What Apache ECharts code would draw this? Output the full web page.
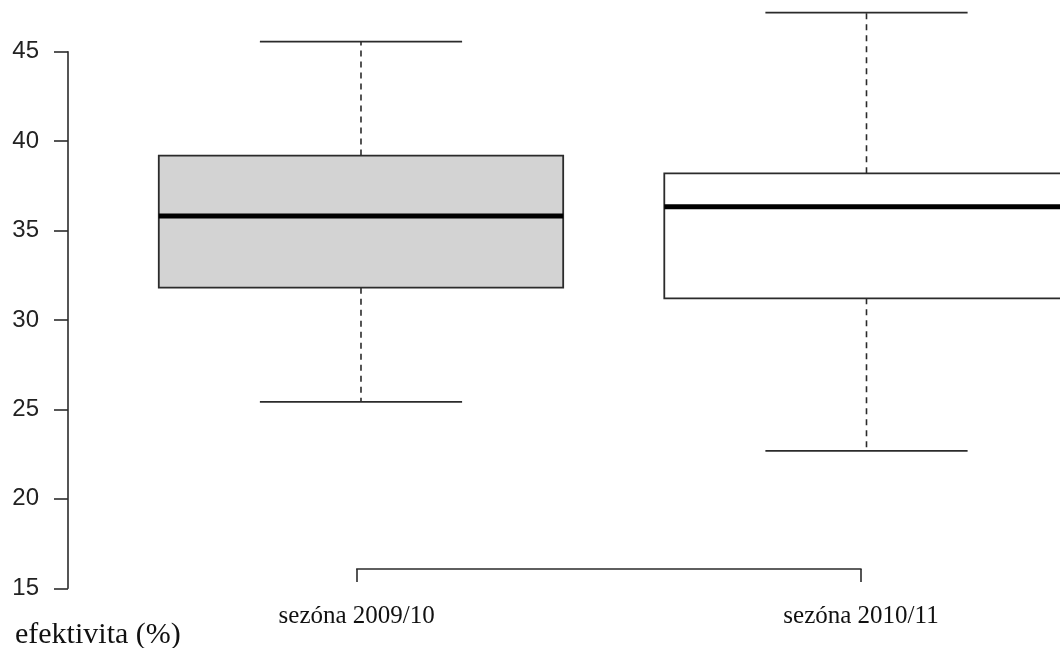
<!DOCTYPE html>
<html>
<head>
<meta charset="utf-8">
<title>efektivita</title>
<script src="https://cdn.jsdelivr.net/npm/echarts@6/dist/echarts.min.js"></script>
<style>
  html, body { margin: 0; padding: 0; background: #fff; }
  #chart { width: 1060px; height: 648px; }
</style>
</head>
<body>
<div id="chart"></div>
<script>
// Seasons shown on the horizontal axis
const categories = ['sezóna 2009/10', 'sezóna 2010/11'];
// Five-number summaries per season (%)
const whiskerLow  = [25.42, 22.68];
const quartile1   = [31.81, 31.21];
const medians     = [35.81, 36.33];
const quartile3   = [39.19, 38.20];
const whiskerHigh = [45.56, 47.18];
// Box fills per season
const boxFills = ['#d3d3d3', '#ffffff'];
// Y axis tick values
const yTicks = [15, 20, 25, 30, 35, 40, 45];

const BOX_HALF = 0.4;     // half box width in category units
const STAPLE_HALF = 0.2;  // half whisker-cap width
const INK = '#2b2b2b';

const boxData = categories.map((c, i) => [
  i + 1, whiskerLow[i], quartile1[i], medians[i], quartile3[i], whiskerHigh[i], i
]);

function renderBox(params, api) {
  const x = api.value(0);
  const lo = api.value(1), q1 = api.value(2), md = api.value(3), q3 = api.value(4), hi = api.value(5);
  const idx = api.value(6);
  const pLoL = api.coord([x - STAPLE_HALF, lo]);
  const pLoR = api.coord([x + STAPLE_HALF, lo]);
  const pHiL = api.coord([x - STAPLE_HALF, hi]);
  const pHiR = api.coord([x + STAPLE_HALF, hi]);
  const cLo = api.coord([x, lo]);
  const cHi = api.coord([x, hi]);
  const cQ1 = api.coord([x, q1]);
  const cQ3 = api.coord([x, q3]);
  const bTL = api.coord([x - BOX_HALF, q3]);
  const bBR = api.coord([x + BOX_HALF, q1]);
  const mL = api.coord([x - BOX_HALF, md]);
  const mR = api.coord([x + BOX_HALF, md]);
  const dash = { stroke: INK, lineWidth: 1.6, lineDash: [6, 5] };
  const solid = { stroke: INK, lineWidth: 1.8 };
  return {
    type: 'group',
    children: [
      { type: 'line', shape: { x1: cQ3[0], y1: cQ3[1], x2: cHi[0], y2: cHi[1] }, style: dash },
      { type: 'line', shape: { x1: cQ1[0], y1: cQ1[1], x2: cLo[0], y2: cLo[1] }, style: dash },
      { type: 'line', shape: { x1: pHiL[0], y1: pHiL[1], x2: pHiR[0], y2: pHiR[1] }, style: solid },
      { type: 'line', shape: { x1: pLoL[0], y1: pLoL[1], x2: pLoR[0], y2: pLoR[1] }, style: solid },
      { type: 'rect', shape: { x: bTL[0], y: bTL[1], width: bBR[0] - bTL[0], height: bBR[1] - bTL[1] },
        style: { fill: boxFills[idx], stroke: INK, lineWidth: 1.8 } },
      { type: 'line', shape: { x1: mL[0], y1: mL[1], x2: mR[0], y2: mR[1] },
        style: { stroke: '#000', lineWidth: 5 } }
    ]
  };
}

const chart = echarts.init(document.getElementById('chart'), null, { renderer: 'canvas' });
chart.setOption({
  animation: false,
  backgroundColor: '#ffffff',
  grid: [
    { left: 68, right: 0, top: 51.7, bottom: 59.7, containLabel: false },
    { left: 356.7, right: 199, top: 568, height: 1, containLabel: false }
  ],
  xAxis: [
    { gridIndex: 0, type: 'value', min: 0.4204, max: 2.3828, show: false },
    {
      gridIndex: 1, type: 'category', data: categories, boundaryGap: false,
      axisLine: { show: true, lineStyle: { color: INK, width: 1.6 } },
      axisTick: { show: true, length: 13, interval: 0, lineStyle: { color: INK, width: 1.6 } },
      axisLabel: {
        interval: 0, margin: 35, color: '#111',
        fontFamily: '"Liberation Serif", "Times New Roman", serif', fontSize: 25
      },
      splitLine: { show: false }
    }
  ],
  yAxis: [
    {
      gridIndex: 0, type: 'value', min: 15, max: 45, interval: 5,
      axisLine: { show: true, lineStyle: { color: INK, width: 1.6 } },
      axisTick: { show: true, length: 14, lineStyle: { color: INK, width: 1.6 } },
      axisLabel: {
        margin: 29, color: '#222',
        fontFamily: '"Liberation Sans", Arial, sans-serif', fontSize: 24,
        padding: [3, 0, 0, 0],
        customValues: yTicks
      },
      splitLine: { show: false }
    },
    { gridIndex: 1, type: 'value', show: false }
  ],
  graphic: [
    {
      type: 'text', left: 15, top: 620,
      style: {
        text: 'efektivita (%)', fill: '#111',
        font: '30px "Liberation Serif", "Times New Roman", serif'
      }
    }
  ],
  series: [
    {
      type: 'custom',
      xAxisIndex: 0, yAxisIndex: 0,
      clip: false,
      renderItem: renderBox,
      data: boxData,
      z: 2
    }
  ]
});
</script>
</body>
</html>
